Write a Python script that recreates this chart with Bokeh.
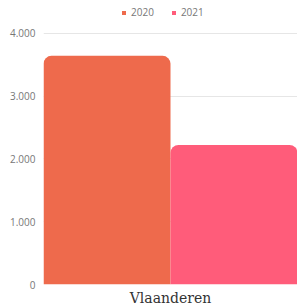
from bokeh.plotting import figure
from bokeh.models import FactorRange, Range1d, FixedTicker, Legend, LegendItem, ColumnDataSource
from bokeh.transform import dodge
from bokeh.embed import file_html
from bokeh.resources import INLINE

categories = ["Vlaanderen"]
series = ["2020", "2021"]
values_2020 = [3640]
values_2021 = [2220]
colors = ["#EE6A4C", "#FF5C7A"]
y_ticks = [0, 1000, 2000, 3000, 4000]
y_tick_labels = ["0", "1.000", "2.000", "3.000", "4.000"]

src = ColumnDataSource(dict(cat=categories, v2020=values_2020, v2021=values_2021))

p = figure(width=297, height=308, x_range=FactorRange(factors=categories, range_padding=0),
           y_range=Range1d(0, 4520), output_backend="svg", toolbar_location=None,
           min_border_left=43, min_border_right=0, min_border_top=0, min_border_bottom=21)
p.outline_line_color = None

r1 = p.vbar(x=dodge("cat", -0.25, range=p.x_range), top="v2020", width=0.5, source=src,
            fill_color=colors[0], line_color=None, border_radius=(8, 8, 0, 0))
r2 = p.vbar(x=dodge("cat", 0.25, range=p.x_range), top="v2021", width=0.5, source=src,
            fill_color=colors[1], line_color=None, border_radius=(8, 8, 0, 0))

p.yaxis.ticker = FixedTicker(ticks=y_ticks)
p.yaxis.major_label_overrides = {t: l for t, l in zip(y_ticks, y_tick_labels)}
p.yaxis.axis_line_color = None
p.yaxis.major_tick_line_color = None
p.yaxis.minor_tick_line_color = None
p.yaxis.major_tick_out = 0
p.yaxis.major_label_text_font = "Open Sans"
p.yaxis.major_label_text_font_size = "10px"
p.yaxis.major_label_text_color = "#777777"
p.yaxis.major_label_standoff = 8

p.xaxis.axis_line_color = None
p.xaxis.major_tick_line_color = None
p.xaxis.minor_tick_line_color = None
p.xaxis.major_tick_out = 0
p.xaxis.major_label_text_font = "DejaVu Serif"
p.xaxis.major_label_text_font_size = "14px"
p.xaxis.major_label_text_color = "#333333"
p.xaxis.major_label_standoff = 5

p.xgrid.grid_line_color = None
p.ygrid.grid_line_color = "#E6E6E6"
p.ygrid.ticker = FixedTicker(ticks=y_ticks)

legend = Legend(items=[LegendItem(label=series[0], renderers=[r1]),
                       LegendItem(label=series[1], renderers=[r2])],
                orientation="horizontal", location=(78, 265),
                glyph_width=5, glyph_height=5, label_height=12, label_standoff=5,
                spacing=17, padding=0, margin=0, border_line_color=None,
                label_text_font="Open Sans", label_text_font_size="10px",
                label_text_color="#777777", background_fill_alpha=0)
p.add_layout(legend, "center")

open("out.html", "w").write(file_html(p, INLINE))
